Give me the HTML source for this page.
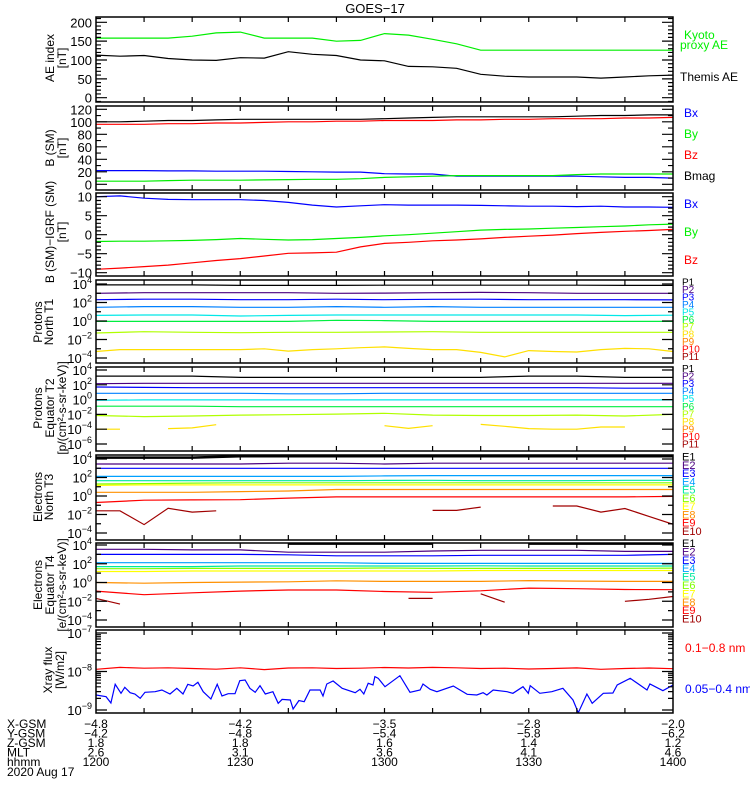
<!DOCTYPE html>
<html><head><meta charset="utf-8"><style>
html,body{margin:0;padding:0;background:#fff;}
svg{display:block;font-family:"Liberation Sans",sans-serif;}
</style></head><body>
<svg id="chart" width="750" height="800" viewBox="0 0 750 800">
<rect x="0" y="0" width="750" height="800" fill="#fff"/>
<text x="375" y="13" font-size="13" text-anchor="middle">GOES−17</text>
</svg>
<script>
// ---------- data ----------
const times5=[0,5,10,15,20,25,30,35,40,45,50,55,60,65,70,75,80,85,90,95,100,105,110,115,120];
const times10=[0,10,20,30,40,50,60,70,80,90,100,110,120];
// AE index (nT)
const aeKyoto=[158,158,158,158,163,172,174,158,158,158,150,152,170,166,155,143,126,126,126,126,126,126,126,126,126];
const aeThemis=[113,110,112,104,100,99,106,105,122,115,112,100,98,83,82,78,62,57,55,55,55,52,55,58,60];
// B (SM) nT
const bBmag=[100,100,101,102,102,103,104,104,104,104,104,104,105,106,107,108,108,108,108,108,109,110,110,111,111];
const bBz=[96,96,96,97,97,98,98,99,100,100,101,101,102,102,102,103,103,104,104,105,105,105,106,106,107];
const bBx=[22,22,22,21.5,21.5,21,21,21,20.5,20,19.5,19.5,17,16.5,16.5,13,13,13,13,13,13,12,11,11,10];
const bBy=[5,5,5,6,6.5,6.5,6.5,7,7.5,8,8,9,11,12,13,14,14,14,14,14,15.5,16.5,16.5,16.5,16.5];
// B - IGRF nT
const dBx=[10,10.2,9.6,9.3,9.2,9.2,9.2,9,8.5,7.8,7.3,7.6,7.9,7.8,7.8,7.8,7.7,7.6,7.5,7.5,7.4,7.5,7.3,7.3,7.2];
const dBy=[-1.8,-1.7,-1.7,-1.6,-1.5,-1.3,-1.0,-1.2,-1.4,-1.3,-1.0,-0.7,-0.3,0,0.4,0.8,1.2,1.4,1.5,1.7,1.9,2.1,2.3,2.6,2.8];
const dBz=[-9.1,-8.8,-8.4,-8.0,-7.4,-6.8,-6.3,-5.6,-4.9,-4.8,-4.6,-3.2,-2.3,-2.0,-1.6,-1.4,-1.1,-0.7,-0.4,-0.1,0.3,0.6,0.9,1.1,1.4];
// Protons North T1
const t1P1=[8000,8000,8000,7000,7000,7000,7500,7500,7500,7500,7500,7000,7000];
const t1P2=[1000,1150,1150,1150,1150,1000,1050,1150,1230,1150,1000,1000,1000];
const t1P3=[200,230,230,200,200,230,200,220,230,200,200,200,190];
const t1P4=[30,36,36,30,30,36,30,36,30,30,30,30,30];
const t1P5=[4,4.5,4.5,3.5,4,4.5,4.5,4.5,4.5,4.5,4.5,3.8,4.2];
const t1P6=[0.9,0.9,0.9,0.9,0.9,1.2,1.1,0.9,0.9,0.9,0.9,0.9,0.9];
const t1P7=[0.05,0.07,0.06,0.055,0.06,0.06,0.065,0.07,0.06,0.06,0.06,0.06,0.06];
const t1P8=[5e-4,8e-4,8e-4,8e-4,8e-4,8e-4,8e-4,1e-3,5.6e-4,8e-4,1e-3,1.3e-3,1.6e-3,1.1e-3,8e-4,8e-4,4e-4,1.3e-4,6.3e-4,5e-4,4.5e-4,8e-4,1.1e-3,1e-3,5e-4];
// Protons Equator T2
const t2P1=[1500,1500,1500,1000,1000,1000,1000,1000,1000,1500,1500,1000,1000];
const t2P2=[140,160,160,160,160,160,160,160,160,160,160,160,160];
const t2P3=[50,45,40,40,40,40,40,40,40,40,40,35,35];
const t2P4=[7,7,7,7,6,6,7,7,7,7,7,7,7];
const t2P5=[0.8,0.9,0.9,0.9,0.9,0.9,0.9,0.9,0.9,0.9,0.9,0.9,0.9];
const t2P6=[0.13,0.13,0.13,0.11,0.11,0.11,0.11,0.11,0.11,0.11,0.11,0.11,0.11];
const t2P7=[0.007,0.005,0.006,0.008,0.009,0.011,0.014,0.008,0.007,0.007,0.008,0.006,0.01];
const t2P8=[1e-4,1e-4,null,1.2e-4,1.5e-4,4e-4,null,null,null,null,null,null,3e-4,1.3e-4,3e-4,null,4.5e-4,2.5e-4,1.2e-4,1e-4,1e-4,2e-4,2e-4,null,null];
// Electrons North T3
const t3E1=[1.4e4,1.4e4,1.4e4,2e4,2e4,2e4,2e4,2e4,2e4,2e4,2e4,2e4,2e4];
const t3E2=[2900,2900,2900,2900,3500,3500,2900,3500,3500,3500,3500,3500,3500];
const t3E3=[1000,1000,1000,1000,1000,1000,1000,1000,1000,1000,1000,1000,1000];
const t3E4=[130,130,130,130,130,130,150,160,160,160,160,160,160];
const t3E5=[45,45,45,45,45,45,48,50,45,45,45,50,50];
const t3E6=[20,22,25,27,27,27,27,27,27,27,27,27,27];
const t3E7=[14,16,16,16,16,16,16,16,16,16,16,16,16];
const t3E8=[2.5,2.5,2.5,3,3.5,5,5,5,5,5,5,5,5];
const t3E9=[0.2,0.35,0.38,0.4,0.6,0.8,0.8,0.8,0.8,0.8,0.8,0.8,0.9];
const t3E10=[0.025,0.025,8e-4,0.047,0.018,0.025,null,null,null,null,null,null,null,null,0.028,0.028,0.063,null,null,0.083,0.083,0.018,0.045,0.0063,8.7e-4];
// Electrons Equator T4
const t4E1=[null,null,null,null,1.4e4,1.4e4,1.4e4,1.4e4,null,1.4e4,1.4e4,1.4e4,1.4e4];
const t4E2=[3500,3500,3000,3000,1700,1700,1700,2300,2700,2700,2700,2100,2100];
const t4E3=[1000,1000,1000,1000,900,700,700,700,800,800,800,800,1000];
const t4E4=[130,130,130,130,130,130,110,110,110,110,110,110,110];
const t4E5=[50,50,50,58,58,58,58,58,60,58,58,58,58];
const t4E6=[30,30,32,32,32,32,35,32,32,32,32,32,34];
const t4E7=[15,15,17,17,17,17,17,17,19,19,19,19,19];
const t4E8=[1.0,0.85,1.0,1.1,1.2,1.5,1.3,1.3,1.3,1.6,1.4,1.3,1.3];
const t4E9=[0.12,0.05,0.08,0.12,0.16,0.16,0.11,0.09,0.13,0.25,0.22,0.18,0.17];
const t4E10=[0.02,0.005,null,null,null,null,null,null,null,null,null,null,null,0.02,0.02,null,0.063,0.008,null,null,null,null,0.01,0.016,0.032];
// Xray flux, in units of 1e-9 W/m2
const xrayTimes=[0,2.1,3.1,4.0,5.2,6.0,7.1,8.1,9.2,10.2,12.3,13.7,15.4,16.8,18.1,19.1,20.2,21.2,22.3,23.9,25.2,26.2,27.5,28.9,29.9,31.0,32.0,33.1,34.1,35.2,36.8,37.9,38.7,40.4,41.0,42.2,43.3,44.5,46.6,47.2,48.0,49.3,51.2,53.9,54.9,55.7,56.6,57.6,58.0,58.7,60.1,63.2,65.3,67.4,68.0,69.5,70.9,74.3,77.2,79.2,80.5,81.3,82.6,85.5,86.7,88.8,89.9,90.3,92.3,94.8,97.1,99.2,100.3,102.1,103.2,105.5,107.5,108.4,111.1,114.6,115.2,117.9,120];
const xraySoft=[2.45,2.22,1.52,4.64,2.71,3.88,2.82,2.61,2.01,2.88,2.99,3.31,2.61,3.66,2.61,4.64,4.20,5.24,2.99,1.93,4.64,2.31,2.65,2.65,5.78,6.01,3.66,2.88,4.29,2.61,2.99,1.49,1.89,1.82,1.06,1.75,1.64,3.31,3.31,2.31,4.73,5.66,3.66,2.82,3.44,2.61,4.93,4.46,7.35,6.65,4.04,7.80,2.88,3.31,4.73,3.44,2.99,4.20,2.55,2.45,2.82,2.45,3.31,2.99,2.71,4.04,2.71,4.29,2.71,2.99,3.66,1.82,0.85,2.61,1.49,2.71,2.77,4.46,6.65,3.31,4.73,3.18,4.46];
const xrayHard=[11.4,12.8,12.2,12.5,12.0,11.5,12.5,11.2,12.3,12.5,12.0,12.2,12.7,12.3,12.8,12.5,12.0,12.2,11.6,12.0,12.4,11.4,12.0,12.3,11.8];
// bottom ephemeris labels
const ephTicks=[0,30,60,90,120];
const ephX=["-4.8","-4.2","-3.5","-2.8","-2.0"];
const ephY=["-4.2","-4.8","-5.4","-5.8","-6.2"];
const ephZ=["1.8","1.8","1.6","1.4","1.2"];
const ephMLT=["2.6","3.1","3.6","4.1","4.6"];
const ephHHMM=["1200","1230","1300","1330","1400"];

// ---------- drawing ----------
const NS="http://www.w3.org/2000/svg";
const svg=document.getElementById('chart');
const X0=96,X1=673;
const xScale=t=>X0+t*(X1-X0)/120;
function mk(tag,attrs,parent){const e=document.createElementNS(NS,tag);for(const k in attrs)e.setAttribute(k,attrs[k]);(parent||svg).appendChild(e);return e;}
function lin(v0,y0,v1,y1){return v=>y0+(v-v0)*(y1-y0)/(v1-v0);}
function lg(e0,y0,e1,y1){return v=>y0+(Math.log10(v)-e0)*(y1-y0)/(e1-e0);}
let clipN=0;
function panel(name,top,bot){
  const id='clip'+(clipN++);
  const cp=mk('clipPath',{id:id});
  mk('rect',{x:X0,y:top,width:X1-X0,height:bot-top},cp);
  const g=mk('g',{'clip-path':'url(#'+id+')'});
  
  
  return {g,top,bot,name};
}
function series(P,times,vals,ys,color,name,w){
  let d='',pen=false;
  for(let i=0;i<vals.length;i++){
    const v=vals[i];
    if(v===null||v===undefined){pen=false;continue;}
    const x=xScale(times[i]).toFixed(1),y=ys(v).toFixed(1);
    d+=(pen?'L':'M')+x+' '+y+' ';pen=true;
  }
  const p=mk('path',{d:d,fill:'none',stroke:color,'stroke-width':w||1.2},P.g);
  
  
}
function frame(P){
  const r=mk('rect',{x:X0,y:P.top,width:X1-X0,height:P.bot-P.top,fill:'none',stroke:'#000','stroke-width':1.5});
  
  
  let d='';
  for(let t=10;t<120;t+=10){const x=xScale(t);d+=`M${x} ${P.bot}v-5M${x} ${P.top}v5`;}
  const tk=mk('path',{d:d,stroke:'#000','stroke-width':1.2});
  
  
}
function yTicks(P,ys,majors,labels,minors,supLabels){
  let d='';
  majors.forEach(v=>{const y=ys(v);if(y<P.top-0.5||y>P.bot+0.5)return;d+=`M${X0} ${y}h11M${X1} ${y}h-11`;});
  minors.forEach(v=>{const y=ys(v);if(y<P.top||y>P.bot)return;d+=`M${X0} ${y}h5M${X1} ${y}h-5`;});
  const tk=mk('path',{d:d,stroke:'#000','stroke-width':1.2});
  
  
  labels.forEach((lab,i)=>{
    const y=ys(majors[i]);
    const t=mk('text',{x:92,y:y+5,'font-size':13,'text-anchor':'end'});
    
    
    if(supLabels){
      const a=mk('tspan',{},t);a.textContent='10';
      const b=mk('tspan',{dy:-6,'font-size':9},t);b.textContent=lab;
    } else t.textContent=lab;
  });
}
function ytitle(lines,cy,name){
  lines.forEach((l,i)=>{
    const t=mk('text',{x:l[1],y:cy,'font-size':l[2]||12,'text-anchor':'middle','dominant-baseline':'central',transform:`rotate(-90 ${l[1]} ${cy})`});
    
    
    t.textContent=l[0];
  });
}
function legend(items,x,size,name){
  items.forEach(it=>{
    const t=mk('text',{x:x,y:it[2],'font-size':size,fill:it[1],'dominant-baseline':'central'});
    
    
    t.textContent=it[0];
  });
}
const range=(a,b,s)=>{const r=[];for(let v=a;v<=b+1e-9;v+=s)r.push(+v.toFixed(6));return r;};
const decades=(a,b)=>range(a,b,1).map(e=>Math.pow(10,e));

// Panel 1: AE
{const P=panel('ae-index',17,102);const ys=lin(0,97.7,200,22.3);
 series(P,times5,aeKyoto,ys,'#00ee00','kyoto-ae-line');
 series(P,times5,aeThemis,ys,'#000','themis-ae-line');
 frame(P);yTicks(P,ys,[0,50,100,150,200],['0','50','100','150','200'],range(-10,210,10));
 ytitle([['AE index',50],['[nT]',62]],58,'ae-y-title');
 legend([['Kyoto','#00ee00',35]],684,12,'ae');legend([['proxy AE','#00ee00',45],['Themis AE','#000',77]],680,12,'ae');}
// Panel 2: B SM
{const P=panel('b-sm',106,190);const ys=lin(0,184.3,120,109.3);
 series(P,times5,bBx,ys,'#0000ff','bx-line');series(P,times5,bBy,ys,'#00ee00','by-line');
 series(P,times5,bBz,ys,'#ff0000','bz-line');series(P,times5,bBmag,ys,'#000','bmag-line');
 frame(P);yTicks(P,ys,[0,20,40,60,80,100,120],['0','20','40','60','80','100','120'],range(0,120,10));
 ytitle([['B (SM)',50],['[nT]',62]],148,'bsm-y-title');
 legend([['Bx','#0000ff',113],['By','#00ee00',134],['Bz','#ff0000',155],['Bmag','#000',176]],684,12,'bsm');}
// Panel 3: B-IGRF
{const P=panel('b-igrf',193,276);const ys=lin(10,196.7,-10,272.7);
 series(P,times5,dBx,ys,'#0000ff','dbx-line');series(P,times5,dBy,ys,'#00ee00','dby-line');series(P,times5,dBz,ys,'#ff0000','dbz-line');
 frame(P);yTicks(P,ys,[-10,-5,0,5,10],['−10','−5','0','5','10'],range(-10,10,1));
 ytitle([['B (SM)−IGRF (SM)',50],['[nT]',62]],232,'bigrf-y-title');
 legend([['Bx','#0000ff',204],['By','#00ee00',232],['Bz','#ff0000',260]],684,12,'bigrf');}
const pCols=['#000','#4b0080','#0000ff','#0080ff','#00e8e8','#00ee40','#b0ff00','#ffe000','#ff8000','#ff0000','#a00000'];
const eCols=['#000','#4b0080','#0000ff','#00a0ff','#00e8a0','#80ff00','#ffff00','#ff9000','#ff0000','#a00000'];
// Panel 4: Protons T1
{const P=panel('protons-t1',280,363);const ys=lg(4,284,-4,358);
 [t1P1,t1P2,t1P3,t1P4,t1P5,t1P6,t1P7].forEach((s,i)=>series(P,times10,s,ys,pCols[i],'t1-p'+(i+1)+'-line'));
 series(P,times5,t1P8,ys,pCols[7],'t1-p8-line');
 frame(P);yTicks(P,ys,decades(-4,4).filter((v,i)=>i%2==0),['−4','−2','0','2','4'],decades(-5,4),true);
 ytitle([['Protons',38],['North T1',49]],322,'t1-y-title');
 legend(pCols.map((c,i)=>['P'+(i+1),c,283+i*7.45]),682,10,'t1');}
// Panel 5: Protons T2
{const P=panel('protons-t2',367,451);const ys=lg(4,370,-6,444);
 [t2P1,t2P2,t2P3,t2P4,t2P5,t2P6,t2P7].forEach((s,i)=>series(P,times10,s,ys,pCols[i],'t2-p'+(i+1)+'-line'));
 series(P,times5,t2P8,ys,pCols[7],'t2-p8-line');
 frame(P);yTicks(P,ys,decades(-6,4).filter((v,i)=>i%2==0),['−6','−4','−2','0','2','4'],[],true);
 ytitle([['Protons',38],['Equator T2',50],['[p/(cm²-s-sr-keV)]',62]],408,'t2-y-title');
 legend(pCols.map((c,i)=>['P'+(i+1),c,369.5+i*7.55]),682,10,'t2');}
// Panel 6: Electrons T3
{const P=panel('electrons-t3',455,540);const ys=lg(4,459,-4,533);
 [t3E1,t3E2,t3E3,t3E4,t3E5,t3E6,t3E7,t3E8,t3E9].forEach((s,i)=>series(P,times10,s,ys,eCols[i],'t3-e'+(i+1)+'-line',i==0?2.5:1.2));
 series(P,times5,t3E10,ys,eCols[9],'t3-e10-line');
 frame(P);yTicks(P,ys,decades(-4,4).filter((v,i)=>i%2==0),['−4','−2','0','2','4'],decades(-5,4),true);
 ytitle([['Electrons',38],['North T3',49]],497,'t3-y-title');
 legend(eCols.map((c,i)=>['E'+(i+1),c,457.5+i*8.25]),682,11,'t3');}
// Panel 7: Electrons T4
{const P=panel('electrons-t4',543,627);const ys=lg(4,545,-4,620);
 [t4E1,t4E2,t4E3,t4E4,t4E5,t4E6,t4E7,t4E8,t4E9].forEach((s,i)=>series(P,times10,s,ys,eCols[i],'t4-e'+(i+1)+'-line',i==0?2.5:1.2));
 series(P,times5,t4E10,ys,eCols[9],'t4-e10-line');
 frame(P);yTicks(P,ys,decades(-4,4).filter((v,i)=>i%2==0),['−4','−2','0','2','4'],decades(-5,4),true);
 ytitle([['Electrons',38],['Equator T4',50],['[e/(cm²-s-sr-keV)]',62]],585,'t4-y-title');
 legend(eCols.map((c,i)=>['E'+(i+1),c,544+i*8.4]),682,11,'t4');}
// Panel 8: Xray
{const P=panel('xray',630,713);const ys0=lg(-7,633,-9,710);const ys=v=>ys0(v*1e-9);
 series(P,times5,xrayHard,ys,'#ff0000','xray-long-line');
 series(P,xrayTimes,xraySoft,ys,'#0000ff','xray-short-line');
 frame(P);
 const minors=[];[1,10].forEach(b=>{for(let k=2;k<=9;k++)minors.push(b*k);});
 yTicks(P,ys,[1,10,100],['−9','−8','−7'],minors,true);
 ytitle([['Xray flux',48],['[W/m2]',60]],670,'xray-y-title');
 legend([['0.1−0.8 nm','#ff0000',648],['0.05−0.4 nm','#0000ff',689]],685,12,'xray');}
// Ephemeris
const rows=[['X-GSM',ephX,724],['Y-GSM',ephY,733.5],['Z-GSM',ephZ,743],['MLT',ephMLT,752.5],['hhmm',ephHHMM,762]];
rows.forEach(r=>{
  const t=mk('text',{x:7,y:r[2],'font-size':12,'dominant-baseline':'central'});
  
  
  t.textContent=r[0];
  r[1].forEach((v,i)=>{
    const u=mk('text',{x:xScale(ephTicks[i]),y:r[2],'font-size':12,'text-anchor':'middle','dominant-baseline':'central'});
    
    
    u.textContent=v.replace('-','−');
  });
});
{const t=mk('text',{x:7,y:772,'font-size':12,'dominant-baseline':'central'});
 
 
 t.textContent='2020 Aug 17';}
</script>
</body></html>
